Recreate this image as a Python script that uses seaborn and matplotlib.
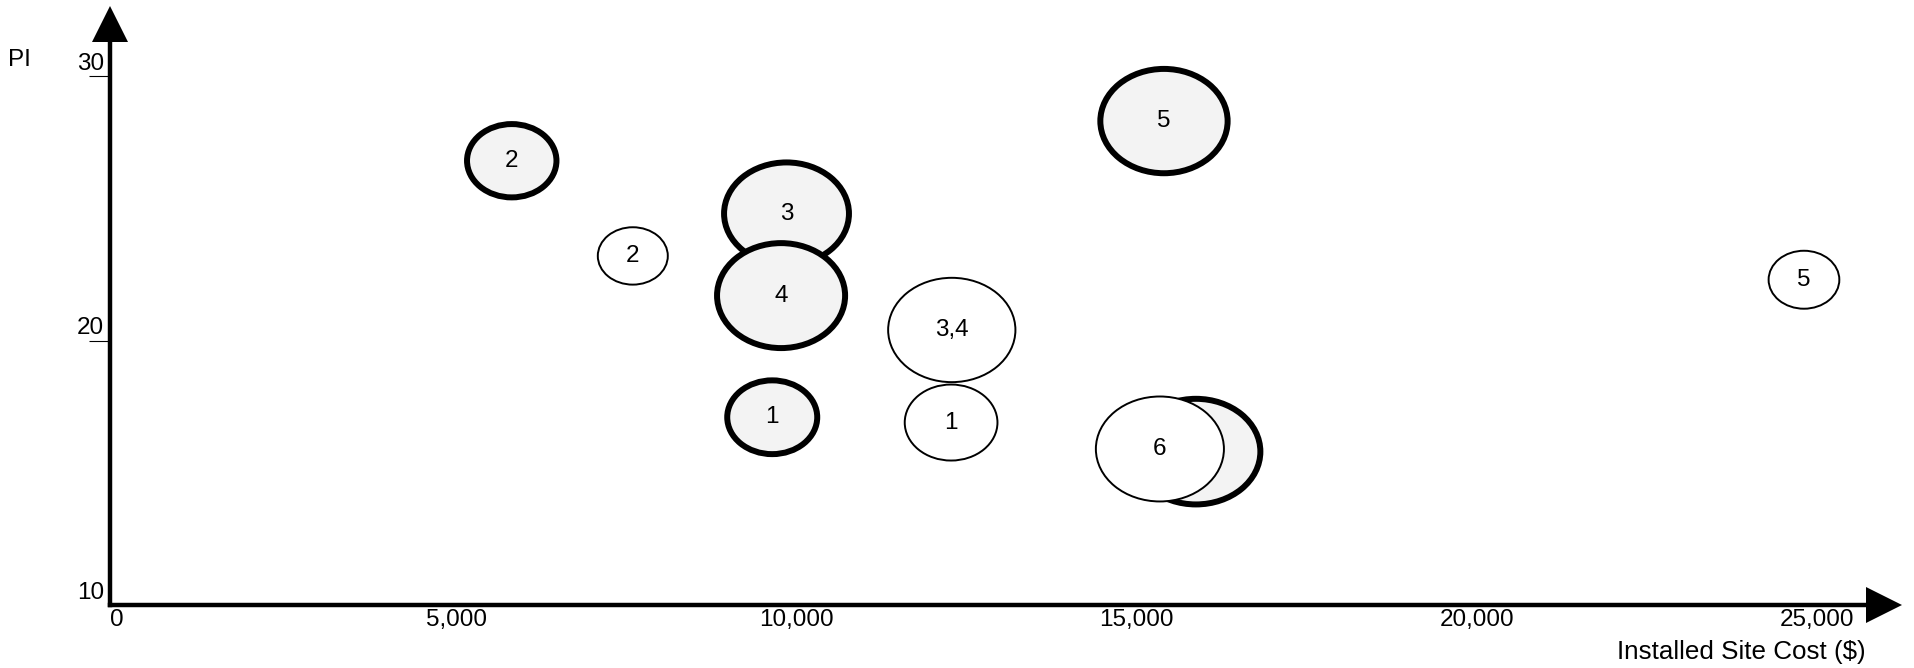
import pandas as pd
import matplotlib
matplotlib.use("Agg")
import matplotlib.pyplot as plt
import seaborn as sns
from matplotlib.path import Path
from matplotlib.transforms import Affine2D, ScaledTranslation

# bubbles with bold outline and shaded fill
bold_labels = ["2", "3", "4", "1", "5", "6"]
bold_cost = [5810, 9850, 9770, 9640, 15400, 15870]
bold_pi = [26.8, 24.8, 21.7, 17.1, 28.3, 15.8]
bold_weight = [0.80, 1.56, 1.64, 0.81, 1.62, 1.66]

# bubbles with thin outline, white fill
thin_labels = ["2", "3,4", "1", "6", "5"]
thin_cost = [7590, 12280, 12270, 15340, 24810]
thin_pi = [23.2, 20.4, 16.9, 15.9, 22.3]
thin_weight = [0.49, 1.62, 0.86, 1.64, 0.50]

x_ticks = [0, 5000, 10000, 15000, 20000, 25000]
x_ticklabels = ["0", "5,000", "10,000", "15,000", "20,000", "25,000"]
y_ticks = [10, 20, 30]

sns.set_theme(style="white")
plt.rcParams['font.family'] = ['Liberation Sans', 'DejaVu Sans']
plt.rcParams['text.color'] = 'black'
plt.rcParams['axes.labelcolor'] = 'black'

bold_df = pd.DataFrame({'cost': bold_cost, 'pi': bold_pi,
                        'weight': bold_weight, 'label': bold_labels})
thin_df = pd.DataFrame({'cost': thin_cost, 'pi': thin_pi,
                        'weight': thin_weight, 'label': thin_labels})

fig = plt.figure(figsize=(19.14, 6.68), dpi=100)
ax = fig.add_axes([0.05747, 0.09431, 0.91745, 0.84282])

# ellipse shaped marker, wider than tall
ellipse = Path.unit_circle().transformed(Affine2D().scale(1.22, 1.0))

# area in pt^2 proportional to weight
size_kw = dict(size='weight', sizes=(0, 2 * 5184), size_norm=(0, 2),
               marker=ellipse, legend=False, ax=ax)
sns.scatterplot(data=bold_df, x='cost', y='pi', color='#f3f3f3',
                edgecolor='black', linewidth=4.3, zorder=1, **size_kw)
sns.scatterplot(data=thin_df, x='cost', y='pi', color='white',
                edgecolor='black', linewidth=1.4, zorder=3, **size_kw)

# labels: bold ones under the thin bubbles (the bold 6 is hidden)
for df, z in ((bold_df, 2), (thin_df, 4)):
    for _, r in df.iterrows():
        ax.text(r['cost'], r['pi'], r['label'], ha='center', va='center',
                fontsize=17.5, color='black', zorder=z)

ax.set_xlim(-97, 25722)
ax.set_ylim(10, 31.29)

# axes styling: only left and bottom, thick
for side in ['top', 'right']:
    ax.spines[side].set_visible(False)
for side in ['left', 'bottom']:
    ax.spines[side].set_linewidth(3.2)
    ax.spines[side].set_color('black')
    ax.spines[side].set_zorder(5)

ax.set_xticks(x_ticks)
ax.set_xticklabels(x_ticklabels)
ax.set_yticks(y_ticks)
ax.tick_params(axis='x', length=0, pad=3, labelsize=17.5, colors='black')
ax.tick_params(axis='y', length=15, width=0.8, direction='out', pad=-10.8,
               labelsize=17.5, colors='black', left=True)
ax.yaxis.get_major_ticks()[0].tick1line.set_visible(False)

# y tick labels sit above their tick marks
shift = ScaledTranslation(0, 10.8 / 72, fig.dpi_scale_trans)
for lab in ax.get_yticklabels():
    lab.set_transform(lab.get_transform() + shift)

ax.set_xlabel('Installed Site Cost ($)', fontsize=18.7, ha='right', va='center')
ax.xaxis.set_label_coords(1.0, -0.0835)
ax.set_ylabel('PI', rotation=0, fontsize=17.5, ha='center', va='center')
ax.yaxis.set_label_coords(-0.0518, 0.968)

# arrowheads at the end of each axis
up = ax.transAxes + ScaledTranslation(0, 13.3 / 72, fig.dpi_scale_trans)
right = ax.transAxes + ScaledTranslation(13.3 / 72, 0, fig.dpi_scale_trans)
ax.plot(0, 1, marker='^', markersize=26.6, color='black', mew=0,
        transform=up, clip_on=False)
ax.plot(1, 0, marker='>', markersize=26.6, color='black', mew=0,
        transform=right, clip_on=False)

plt.savefig('out.png', dpi=100)
